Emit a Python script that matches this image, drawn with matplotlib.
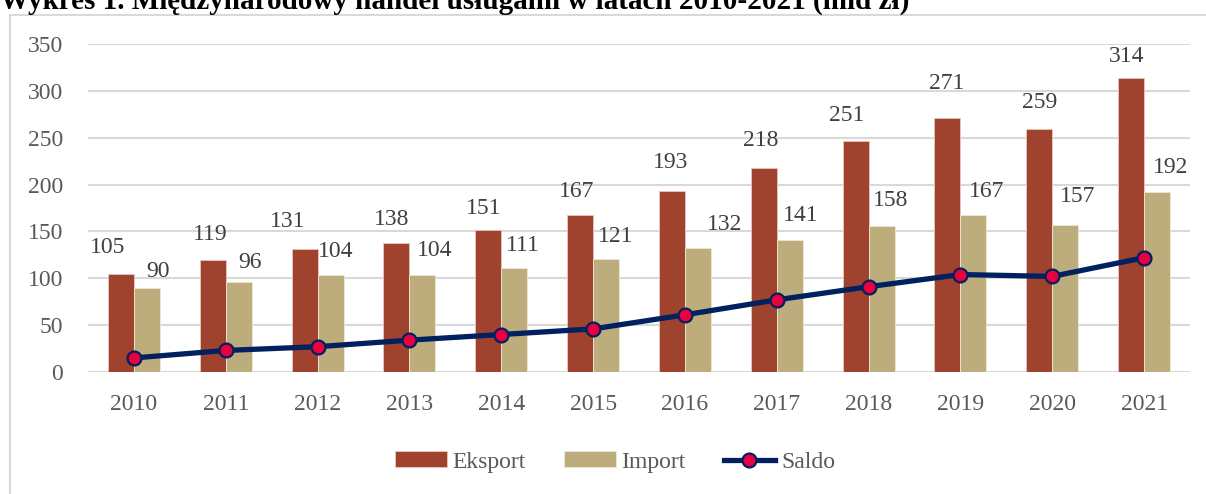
import matplotlib.pyplot as plt
from matplotlib.lines import Line2D

# values (mld zł)
years = ["2010", "2011", "2012", "2013", "2014", "2015",
         "2016", "2017", "2018", "2019", "2020", "2021"]
eksport = [105, 119, 131, 138, 151, 167, 193, 218, 247, 271, 259, 314]
import_ = [90, 96, 104, 104, 111, 121, 132, 141, 156, 167, 157, 192]
saldo = [15, 23, 27, 34, 40, 46, 61, 77, 91, 104, 102, 122]

# data labels as printed on the chart (2018 labels differ from the bars)
eksport_labels = ["105", "119", "131", "138", "151", "167",
                  "193", "218", "251", "271", "259", "314"]
import_labels = ["90", "96", "104", "104", "111", "121",
                 "132", "141", "158", "167", "157", "192"]

# label offsets in pixels (hand placed in the original)
exp_dx = [-13, -3, -17, -5, -5, -3, -1, -3, -9, -1, 0, -4]
exp_dy = [26, 26, 28, 23, 22, 24, 29, 27, 25, 35, 27, 21]
imp_dx = [11, 11, 5, 12, 9, 10, 27, 11, 9, 13, 12, 14]
imp_dy = [16, 20, 23, 24, 22, 22, 24, 24, 25, 24, 28, 25]

c_exp = "#A0432E"
c_imp = "#BDAD7C"
c_line = "#002060"
c_mark = "#E8003F"
grid_c = "#D9D9D9"

plt.rcParams["font.family"] = ["Liberation Serif", "DejaVu Serif"]
fs = 17

fig = plt.figure(figsize=(12.06, 4.94), dpi=100)
ax = fig.add_axes([88 / 1206, 1 - 372 / 494, (1190 - 88) / 1206, (372 - 44) / 494])

x = list(range(len(years)))
w = 0.283
xe = [i - w / 2 for i in x]
xi = [i + w / 2 for i in x]

b1 = ax.bar(xe, eksport, w, color=c_exp, edgecolor="#E8C8C0", linewidth=0.6, zorder=2, label="Eksport")
b2 = ax.bar(xi, import_, w, color=c_imp, edgecolor="#EFE8D6", linewidth=0.6, zorder=2, label="Import")
l1, = ax.plot(x, saldo, color=c_line, linewidth=3.8, marker="o", markersize=10,
              markerfacecolor=c_mark, markeredgecolor=c_line, markeredgewidth=1.6,
              zorder=4, label="Saldo")

for i in x:
    ax.annotate(eksport_labels[i], (xe[i], eksport[i]), xytext=(exp_dx[i], exp_dy[i]),
                textcoords="offset pixels", ha="center", va="center",
                fontsize=fs, color="#404040", zorder=5)
    ax.annotate(import_labels[i], (xi[i], import_[i]), xytext=(imp_dx[i], imp_dy[i]),
                textcoords="offset pixels", ha="center", va="center",
                fontsize=fs, color="#404040", zorder=5)

ax.set_xlim(-0.5, len(years) - 0.5)
ax.set_ylim(0, 350)
ax.set_yticks(range(0, 351, 50))
ax.set_xticks(x)
ax.set_xticklabels(years)
ax.grid(axis="y", color=grid_c, linewidth=1.5, zorder=0)
ax.set_axisbelow(True)
for s in ax.spines.values():
    s.set_visible(False)
ax.tick_params(length=0, labelsize=fs, colors="#595959")
ax.tick_params(axis="y", pad=18)
ax.tick_params(axis="x", pad=16)

leg = fig.legend([b1, b2, l1], ["Eksport", "Import", "Saldo"],
                 loc="center", bbox_to_anchor=(0.51, 1 - 462 / 494), ncol=3,
                 frameon=False, fontsize=fs, handlelength=2.2, handleheight=0.65,
                 handletextpad=0.25, columnspacing=1.6)
for t in leg.get_texts():
    t.set_color("#595959")

# chart area border (cropped on the right and bottom)
fig.add_artist(Line2D([10 / 1206, 10 / 1206], [0, 1 - 15 / 494], transform=fig.transFigure,
                      color=grid_c, linewidth=1.5))
fig.add_artist(Line2D([10 / 1206, 1], [1 - 15 / 494, 1 - 15 / 494], transform=fig.transFigure,
                      color=grid_c, linewidth=1.5))

# title, cut off at the top in the reference
fig.text(0.0, 1 - 9 / 494, "Wykres 1. Międzynarodowy handel usługami w latach 2010-2021 (mld zł)",
         ha="left", va="baseline", fontsize=21, fontweight="bold", color="#000000")

fig.savefig("out.png", dpi=100)
